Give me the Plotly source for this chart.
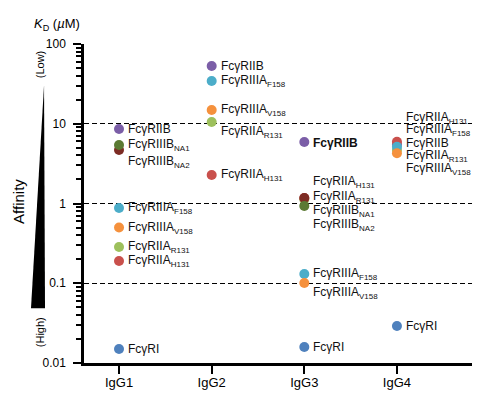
import numpy as np
import plotly.graph_objects as go

# ---------------- data ----------------
isotypes = ["IgG1", "IgG2", "IgG3", "IgG4"]

receptors = ["FcγRIIB", "FcγRIIA R131", "FcγRIIA H131", "FcγRIIIB NA2",
             "FcγRIIIB NA1", "FcγRIIIA F158", "FcγRIIIA V158", "FcγRI"]

# KD (µM) per isotype (None = no binding shown)
kd_IIB   = [8.6, 53.0, 5.9, 5.5]
kd_R131  = [0.285, 10.5, 1.12, 4.7]
kd_H131  = [0.19, 2.28, 1.17, 5.96]
kd_NA2   = [4.69, None, 1.17, None]
kd_NA1   = [5.41, None, 0.93, None]
kd_F158  = [0.878, 34.4, 0.1306, 5.15]
kd_V158  = [0.50, 14.9, 0.1007, 4.26]
kd_RI    = [0.015, None, 0.0159, 0.0291]

# label vertical positions (µM) for the text beside each point
lab_IIB  = [8.6, 53.0, 5.8, 5.74]
lab_R131 = [0.285, 7.88, 1.206, 3.94]
lab_H131 = [0.19, 2.28, 1.86, 11.8]
lab_NA2  = [3.31, None, 0.537, None]
lab_NA1  = [5.41, None, 0.805, None]
lab_F158 = [0.878, 34.4, 0.1306, 8.35]
lab_V158 = [0.50, 14.9, 0.0755, 2.71]
lab_RI   = [0.015, None, 0.0159, 0.0291]

def sub(main, s):
    return main + "<sub><span style='font-size:8px'>" + s + "</span></sub>"

label_html = ["FcγRIIB", sub("FcγRIIA", "R131"), sub("FcγRIIA", "H131"),
              sub("FcγRIIIB", "NA2"), sub("FcγRIIIB", "NA1"),
              sub("FcγRIIIA", "F158"), sub("FcγRIIIA", "V158"), "FcγRI"]

colors = ["#7b5ea7", "#9dc05c", "#c9504c", "#7d2c24",
          "#5b7a33", "#4cadc9", "#f5913d", "#4f81bd"]

values = [kd_IIB, kd_R131, kd_H131, kd_NA2, kd_NA1, kd_F158, kd_V158, kd_RI]
labels_y = [lab_IIB, lab_R131, lab_H131, lab_NA2, lab_NA1, lab_F158, lab_V158, lab_RI]

minor_vals = [m * 10.0 ** e for e in range(-2, 2) for m in range(2, 10)]

# ---------------- figure ----------------
fig = go.Figure()
for name, vals, col in zip(receptors, values, colors):
    fig.add_trace(go.Scatter(
        x=isotypes, y=vals, mode="markers", name=name,
        marker=dict(size=10, color=col, line=dict(width=0)),
        showlegend=False, cliponaxis=False))

FONT = "Liberation Sans, Arial, sans-serif"
ann = []
for name, lys, txt in zip(receptors, labels_y, label_html):
    for iso, ly in zip(isotypes, lys):
        if ly is None:
            continue
        t = txt
        if iso == "IgG3" and name == "FcγRIIB":
            t = "<b>FcγRIIB</b>"
        ann.append(dict(x=iso, y=np.log10(ly), xref="x", yref="y", text=t,
                        showarrow=False, xanchor="left", yanchor="middle",
                        xshift=7, font=dict(size=12, color="#111", family=FONT)))

# left-side decorations
ann.append(dict(x=-0.07, y=1.06, xref="paper", yref="paper",
                text="<i>K</i><sub>D</sub> (<i>µ</i>M)", showarrow=False,
                xanchor="center", yanchor="middle", font=dict(size=13, color="black", family=FONT)))
ann.append(dict(x=-0.113, y=0.937, xref="paper", yref="paper", text="(Low)",
                textangle=-90, showarrow=False, xanchor="center", yanchor="middle",
                font=dict(size=11, color="black", family=FONT)))
ann.append(dict(x=-0.1675, y=0.505, xref="paper", yref="paper", text="Affinity",
                textangle=-90, showarrow=False, xanchor="center", yanchor="middle",
                font=dict(size=15, color="black", family=FONT)))
ann.append(dict(x=-0.113, y=0.097, xref="paper", yref="paper", text="(High)",
                textangle=-90, showarrow=False, xanchor="center", yanchor="middle",
                font=dict(size=11, color="black", family=FONT)))

# page body has an 8px default margin -> figure is sized/margined to compensate
fig.update_layout(
    width=477, height=391,
    margin=dict(l=76, r=13, t=36, b=36),
    paper_bgcolor="white", plot_bgcolor="white",
    annotations=ann,
    shapes=[dict(type="path", xref="paper", yref="paper",
                 path="M -0.103 0.871 L -0.1005 0.172 L -0.1366 0.172 Z",
                 fillcolor="black", line=dict(width=0))],
    font=dict(family=FONT, color="black"),
)

fig.update_xaxes(
    type="category", range=[-0.378, 3.81], automargin=False,
    showline=True, linecolor="black", linewidth=2.5,
    ticks="outside", ticklen=8, tickwidth=2, tickcolor="black",
    ticklabelstandoff=-2,
    tickfont=dict(size=13, color="black", family=FONT),
    showgrid=False, zeroline=False)

fig.update_yaxes(
    type="log", range=[-2, 2], automargin=False,
    tickvals=[0.01, 0.1, 1, 10, 100], ticktext=["0.01", "0.1", "1", "10", "100"],
    ticks="outside", ticklen=8, tickwidth=2, tickcolor="black",
    ticklabelstandoff=5,
    tickfont=dict(size=12, color="black", family=FONT),
    showline=True, linecolor="black", linewidth=2.5,
    showgrid=True, gridcolor="black", gridwidth=1, griddash="5px,3px",
    minor=dict(tickvals=minor_vals, ticks="outside", ticklen=5, tickwidth=1.5,
               tickcolor="black", showgrid=False),
    zeroline=False)

fig.write_html("out.html")
